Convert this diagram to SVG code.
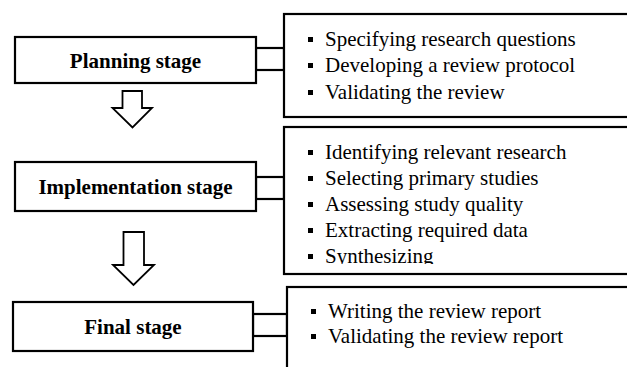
<svg xmlns="http://www.w3.org/2000/svg" width="627" height="367" viewBox="0 0 627 367">
<style>
.box{fill:#fff;stroke:#000;stroke-width:2.2}
.stage{font-family:"Liberation Serif","Times New Roman",serif;font-weight:bold;font-size:21px;fill:#000;text-anchor:middle}
.item{font-family:"Liberation Serif","Times New Roman",serif;font-size:21px;fill:#000}
.bul{fill:#000}
.arr{fill:#fff;stroke:#000;stroke-width:1.8;stroke-linejoin:miter}
</style>
<defs>
<clipPath id="clip2"><rect x="286" y="129" width="341" height="135"/></clipPath>
</defs>
<rect width="627" height="367" fill="#fff"/>
<g id="connectors">
<rect class="box" x="256" y="48" width="28" height="22"/>
<rect class="box" x="256" y="177" width="28" height="22"/>
<rect class="box" x="253" y="314" width="34" height="22"/>
<path class="arr" d="M122.5,91 H142 V108 H152 L132.5,127.5 L112.5,108 H122.5 Z"/>
<path class="arr" d="M123.5,232 H144 V265 H154 L133.5,285 L113,265 H123.5 Z"/>
</g>
<g id="planning">
<rect class="box" x="15" y="37" width="241" height="46"/>
<text class="stage" x="135.5" y="68">Planning stage</text>
</g>
<g id="planning-list">
<rect class="box" x="284" y="14" width="360" height="103"/>
<rect class="bul" x="308" y="37" width="5" height="5"/>
<rect class="bul" x="308" y="63" width="5" height="5"/>
<rect class="bul" x="308" y="90" width="5" height="5"/>
<text class="item" x="325" y="46">Specifying research questions</text>
<text class="item" x="325" y="72">Developing a review protocol</text>
<text class="item" x="325" y="99">Validating the review</text>
</g>
<g id="implementation">
<rect class="box" x="15" y="162" width="241" height="49"/>
<text class="stage" x="135.5" y="194">Implementation stage</text>
</g>
<g id="implementation-list">
<rect class="box" x="284" y="127" width="360" height="147"/>
<g clip-path="url(#clip2)">
<rect class="bul" x="308" y="150" width="5" height="5"/>
<rect class="bul" x="308" y="176" width="5" height="5"/>
<rect class="bul" x="308" y="202" width="5" height="5"/>
<rect class="bul" x="308" y="228" width="5" height="5"/>
<rect class="bul" x="308" y="254" width="5" height="5"/>
<text class="item" x="325" y="159">Identifying relevant research</text>
<text class="item" x="325" y="185">Selecting primary studies</text>
<text class="item" x="325" y="211">Assessing study quality</text>
<text class="item" x="325" y="237">Extracting required data</text>
<text class="item" x="325" y="263">Synthesizing</text>
</g>
</g>
<g id="final">
<rect class="box" x="13" y="302" width="240" height="49"/>
<text class="stage" x="133" y="334">Final stage</text>
</g>
<g id="final-list">
<rect class="box" x="287" y="287" width="360" height="100"/>
<rect class="bul" x="311" y="309" width="5" height="5"/>
<rect class="bul" x="311" y="334" width="5" height="5"/>
<text class="item" x="328" y="318">Writing the review report</text>
<text class="item" x="328" y="343">Validating the review report</text>
</g>
</svg>
